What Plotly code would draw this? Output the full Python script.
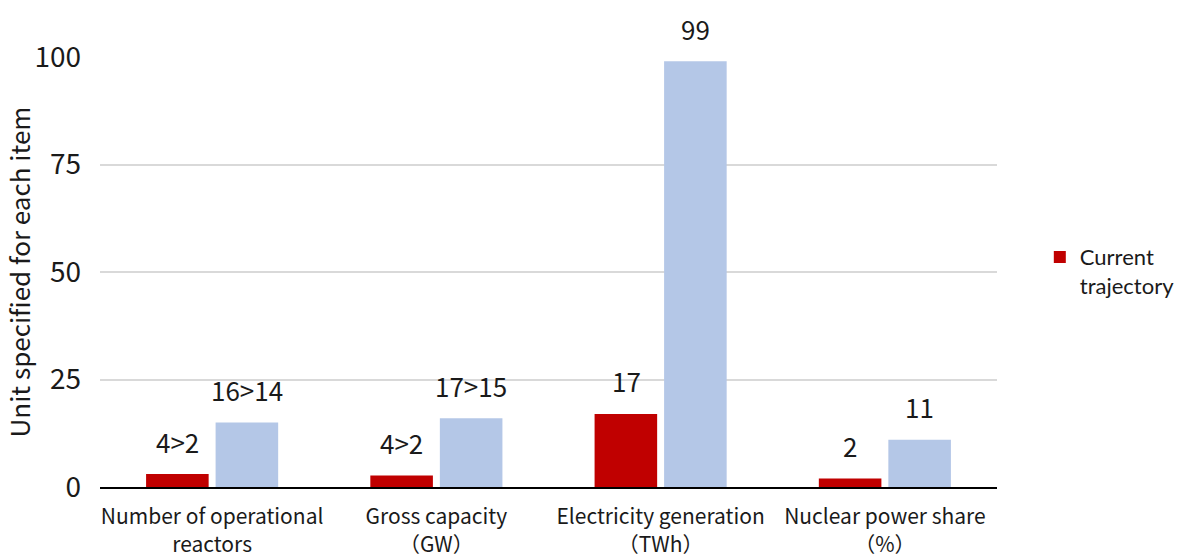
import plotly.graph_objects as go

# Categories (two-line tick labels) and series values
categories = [
    "Number of operational<br>reactors",
    "Gross capacity<br>（GW）",
    "Electricity generation<br>（TWh）",
    "Nuclear power share<br>（%）",
]
current_values = [3, 2.7, 17, 2]
current_labels = ["4>2", "4>2", "17", "2"]
compare_values = [15, 16, 99, 11]
compare_labels = ["16>14", "17>15", "99", "11"]
y_ticks = [0, 25, 50, 75, 100]

FONT = "Noto Sans CJK JP, Noto Sans, sans-serif"
LEGEND_FONT = "Lato, Noto Sans CJK JP, sans-serif"
TEXT = "#1a1a1a"
RED = "#C00000"
BLUE = "#B4C7E7"

fig = go.Figure()
fig.add_trace(go.Bar(
    x=categories, y=current_values, name="Current<br>trajectory",
    marker=dict(color=RED, line=dict(width=0)),
))
fig.add_trace(go.Bar(
    x=categories, y=compare_values, name="Comparison",
    marker=dict(color=BLUE, line=dict(width=0)), showlegend=False,
))

# Value labels floating above each bar
annotations = []
for cat, v, t in zip(categories, current_values, current_labels):
    annotations.append(dict(x=cat, y=v, text=t, xref="x", yref="y",
                            xshift=-34.5, yshift=33, showarrow=False,
                            yanchor="middle",
                            font=dict(family=FONT, size=26, color=TEXT)))
for cat, v, t in zip(categories, compare_values, compare_labels):
    annotations.append(dict(x=cat, y=v, text=t, xref="x", yref="y",
                            xshift=34.5, yshift=33, showarrow=False,
                            yanchor="middle",
                            font=dict(family=FONT, size=26, color=TEXT)))

fig.update_layout(
    width=1187, height=560,
    margin=dict(l=100, r=190, t=57, b=73),
    paper_bgcolor="white", plot_bgcolor="white",
    font=dict(family=FONT, color=TEXT),
    barmode="group", bargap=0.38, bargroupgap=0.1,
    annotations=annotations,
    legend=dict(
        xref="container", yref="container", x=0.876, y=0.515,
        xanchor="left", yanchor="middle", valign="top",
        font=dict(family=LEGEND_FONT, size=22, color=TEXT),
        itemwidth=30, bgcolor="rgba(0,0,0,0)",
    ),
    xaxis=dict(
        showline=True, linecolor="black", linewidth=2,
        tickfont=dict(family=FONT, size=21, color=TEXT),
        ticks="", showgrid=False, ticklabelstandoff=10,
        automargin=False,
    ),
    yaxis=dict(
        range=[0, 100], tickvals=y_ticks,
        showgrid=True, gridcolor="#D9D9D9", gridwidth=1.5,
        zeroline=False, showline=False, ticks="",
        ticklabelstandoff=18, automargin=False,
        tickfont=dict(family=FONT, size=28, color=TEXT),
        title=dict(text="Unit specified for each item", standoff=8,
                   font=dict(family=FONT, size=26, color=TEXT)),
    ),
)

fig.write_html("out.html")
